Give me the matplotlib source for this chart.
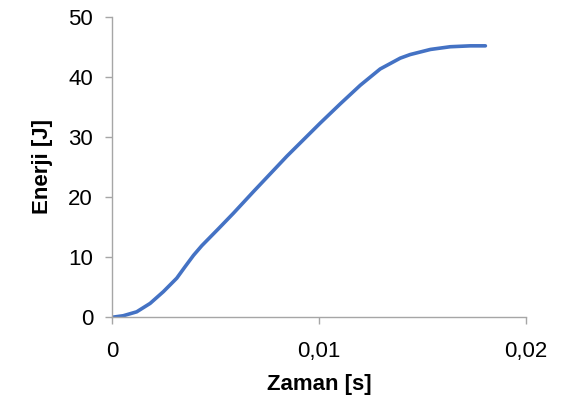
import matplotlib
matplotlib.use('Agg')

import matplotlib.pyplot as plt

# curve (time in s, energy in J)
zaman = [0.0, 0.00052, 0.00117, 0.00182, 0.00246, 0.00311, 0.00351,
         0.00392, 0.00432, 0.00512, 0.00585, 0.00682, 0.00844, 0.01005,
         0.01102, 0.01199, 0.01295, 0.01392, 0.0144, 0.01538, 0.01634,
         0.01731, 0.01804]
enerji = [0.0, 0.25, 0.9, 2.3, 4.25, 6.5, 8.4,
          10.3, 11.9, 14.7, 17.3, 20.9, 26.8, 32.3,
          35.5, 38.6, 41.3, 43.1, 43.7, 44.55, 45.0,
          45.15, 45.15]

x_ticks = [0, 0.01, 0.02]
x_tick_labels = ['0', '0,01', '0,02']
y_ticks = [0, 10, 20, 30, 40, 50]
y_tick_labels = ['0', '10', '20', '30', '40', '50']

plt.rcParams['font.family'] = ['Liberation Sans', 'DejaVu Sans']

fig = plt.figure(figsize=(5.71, 4.12), dpi=100, facecolor='w')
ax = fig.add_axes([0.197, 0.23, 0.724, 0.7295])

ax.plot(zaman, enerji, color='#4472C4', lw=2.6,
        solid_capstyle='round', solid_joinstyle='round')

ax.set_xlim(0, 0.02)
ax.set_ylim(0, 50)
ax.set_xticks(x_ticks)
ax.set_xticklabels(x_tick_labels)
ax.set_yticks(y_ticks)
ax.set_yticklabels(y_tick_labels)

for side in ['top', 'right']:
    ax.spines[side].set_visible(False)
for side in ['left', 'bottom']:
    ax.spines[side].set_color('#A6A6A6')
    ax.spines[side].set_linewidth(1.0)

ax.tick_params(axis='both', direction='out', length=5, width=1.0,
               color='#A6A6A6', labelsize=16, labelcolor='black')
ax.tick_params(axis='x', pad=12)
ax.tick_params(axis='y', pad=9)

ax.set_xlabel('Zaman [s]', fontsize=16, fontweight='bold', labelpad=9)
ax.set_ylabel('Enerji [J]', fontsize=16, fontweight='bold', labelpad=11)

fig.savefig('out.png', dpi=100, facecolor='w')
